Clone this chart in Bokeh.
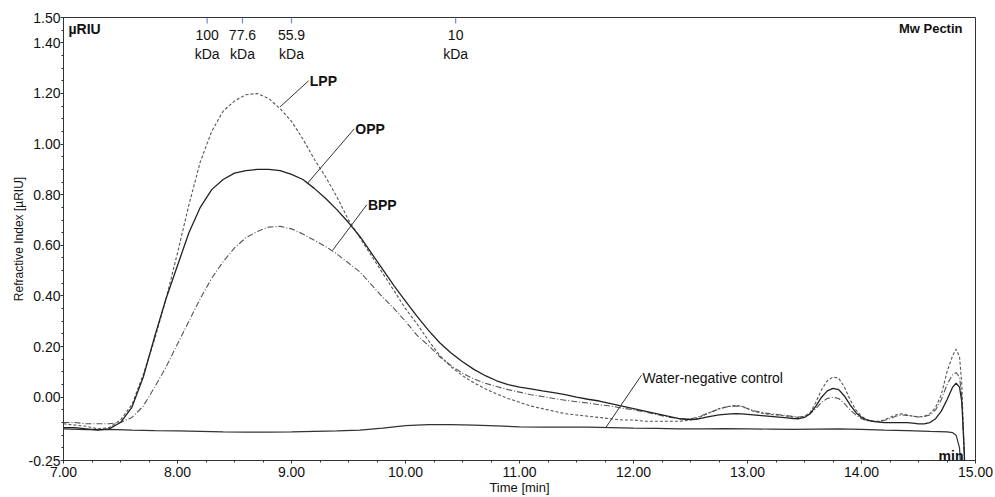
from bokeh.plotting import figure
from bokeh.models import Range1d, FixedTicker, NumeralTickFormatter, Label
from bokeh.core.properties import value
from bokeh.embed import file_html
from bokeh.resources import INLINE

FONT = "Liberation Sans"

# ---- data ----
time_min = [7.0, 7.1, 7.2, 7.3, 7.4, 7.5, 7.6, 7.7, 7.8, 7.9,
            8.0, 8.1, 8.2, 8.3, 8.4, 8.5, 8.6, 8.7, 8.8, 8.9,
            9.0, 9.1, 9.2, 9.3, 9.4, 9.5, 9.6, 9.7, 9.8, 9.9,
            10.0, 10.1, 10.2, 10.3, 10.4, 10.5, 10.6, 10.7, 10.8, 10.9,
            11.0, 11.1, 11.2, 11.3, 11.4, 11.5, 11.6, 11.7, 11.8, 11.9,
            12.0, 12.1, 12.2, 12.3, 12.4, 12.5,
            12.55, 12.6, 12.65, 12.7, 12.75, 12.8, 12.85, 12.9, 12.95,
            13.0, 13.05, 13.1, 13.15, 13.2, 13.25, 13.3, 13.35, 13.4, 13.45,
            13.5, 13.55, 13.6, 13.65, 13.7, 13.75, 13.8, 13.85, 13.9, 13.95,
            14.0, 14.05, 14.1, 14.15, 14.2, 14.25, 14.3, 14.35, 14.4, 14.45,
            14.5, 14.55, 14.6, 14.65, 14.7, 14.75, 14.8,
            14.83, 14.86, 14.88, 14.9, 14.92]

lpp = [-0.105, -0.11, -0.115, -0.125, -0.12, -0.09, -0.03, 0.09, 0.23, 0.39,
       0.57, 0.76, 0.93, 1.05, 1.13, 1.17, 1.195, 1.20, 1.18, 1.14,
       1.09, 1.02, 0.94, 0.87, 0.79, 0.70, 0.63, 0.56, 0.49, 0.42,
       0.35, 0.29, 0.225, 0.165, 0.12, 0.085, 0.057, 0.033, 0.013, -0.005,
       -0.02, -0.035, -0.045, -0.055, -0.065, -0.07, -0.075, -0.08, -0.085, -0.09,
       -0.09, -0.095, -0.095, -0.095, -0.095, -0.09,
       -0.085, -0.075, -0.065, -0.055, -0.045, -0.04, -0.035, -0.033, -0.035,
       -0.045, -0.055, -0.06, -0.065, -0.068, -0.07, -0.072, -0.075, -0.078, -0.08,
       -0.075, -0.06, -0.02, 0.03, 0.065, 0.08, 0.075, 0.04, -0.01, -0.05,
       -0.075, -0.09, -0.095, -0.095, -0.09, -0.08, -0.07, -0.065, -0.07, -0.075,
       -0.078, -0.075, -0.065, -0.04, 0.01, 0.10, 0.165,
       0.19, 0.16, 0.05, -0.2, -0.45]

opp = [-0.12, -0.12, -0.125, -0.13, -0.125, -0.10, -0.04, 0.08, 0.24, 0.39,
       0.52, 0.65, 0.75, 0.82, 0.86, 0.885, 0.895, 0.90, 0.90, 0.895,
       0.88, 0.86, 0.825, 0.785, 0.74, 0.69, 0.635, 0.57, 0.505, 0.44,
       0.38, 0.32, 0.265, 0.215, 0.175, 0.14, 0.11, 0.085, 0.065, 0.05,
       0.04, 0.033, 0.025, 0.018, 0.01, 0.0, -0.008, -0.015, -0.025, -0.035,
       -0.045, -0.055, -0.065, -0.075, -0.085, -0.088,
       -0.087, -0.083, -0.078, -0.074, -0.07, -0.068, -0.066, -0.065, -0.066,
       -0.068, -0.07, -0.072, -0.074, -0.076, -0.078, -0.08, -0.082, -0.084, -0.085,
       -0.08, -0.065, -0.035, 0.0, 0.025, 0.035, 0.03, 0.005, -0.03, -0.06,
       -0.08, -0.09, -0.095, -0.098, -0.1, -0.1, -0.1, -0.1, -0.1, -0.102,
       -0.105, -0.105, -0.1, -0.085, -0.055, -0.01, 0.04,
       0.055, 0.04, -0.02, -0.2, -0.45]

bpp = [-0.10, -0.10, -0.105, -0.105, -0.105, -0.10, -0.08, -0.035, 0.04, 0.12,
       0.21, 0.30, 0.39, 0.47, 0.535, 0.59, 0.63, 0.655, 0.672, 0.675,
       0.665, 0.645, 0.62, 0.595, 0.565, 0.53, 0.495, 0.445, 0.395, 0.35,
       0.30, 0.245, 0.205, 0.16, 0.125, 0.095, 0.072, 0.055, 0.042, 0.03,
       0.02, 0.01, 0.003, -0.005, -0.012, -0.018, -0.023, -0.03, -0.035, -0.043,
       -0.05, -0.058, -0.068, -0.078, -0.085, -0.085,
       -0.08, -0.072, -0.063, -0.055, -0.047, -0.04, -0.036, -0.035, -0.037,
       -0.045, -0.053, -0.058, -0.062, -0.065, -0.067, -0.07, -0.073, -0.076, -0.078,
       -0.076, -0.065, -0.045, -0.02, -0.005, 0.0, -0.005, -0.025, -0.05, -0.07,
       -0.085, -0.093, -0.096, -0.096, -0.092, -0.085, -0.075, -0.07, -0.072, -0.075,
       -0.078, -0.076, -0.07, -0.05, -0.01, 0.05, 0.09,
       0.097, 0.08, 0.0, -0.22, -0.45]

water_time = [7.0, 7.2, 7.4, 7.6, 7.8, 8.0, 8.2, 8.4, 8.6, 8.8,
              9.0, 9.2, 9.4, 9.6, 9.8, 10.0, 10.2, 10.4, 10.6, 10.8,
              11.0, 11.2, 11.4, 11.6, 11.8, 12.0, 12.2, 12.4, 12.6, 12.8,
              13.0, 13.2, 13.4, 13.6, 13.8, 14.0, 14.2, 14.4, 14.6, 14.75,
              14.8, 14.83, 14.86, 14.88, 14.9]
water = [-0.125, -0.128, -0.127, -0.13, -0.132, -0.133, -0.135, -0.137, -0.138, -0.138,
         -0.137, -0.135, -0.133, -0.13, -0.122, -0.112, -0.108, -0.108, -0.11, -0.113,
         -0.117, -0.118, -0.118, -0.118, -0.12, -0.122, -0.123, -0.125, -0.125, -0.124,
         -0.125, -0.126, -0.127, -0.126, -0.125, -0.127, -0.13, -0.132, -0.135, -0.137,
         -0.14, -0.15, -0.2, -0.35, -0.5]

mw_times = [8.26, 8.57, 9.00, 10.44]
mw_labels = ["100\nkDa", "77.6\nkDa", "55.9\nkDa", "10\nkDa"]

callout_names = ["LPP", "OPP", "BPP", "Water-negative control"]
callout_from_t = [8.90, 9.14, 9.36, 11.76]
callout_from_v = [1.147, 0.845, 0.58, -0.118]
callout_to_t = [9.15, 9.55, 9.66, 12.07]
callout_to_v = [1.25, 1.06, 0.76, 0.087]

x_ticks = [7.0, 8.0, 9.0, 10.0, 11.0, 12.0, 13.0, 14.0, 15.0]
x_minor = [7.0 + 0.25 * i for i in range(33)]
y_ticks = [-0.25, 0.0, 0.2, 0.4, 0.6, 0.8, 1.0, 1.2, 1.4, 1.5]
y_minor = [round(-0.25 + 0.05 * i, 2) for i in range(36)]

# ---- figure ----
p = figure(width=995, height=497, output_backend="svg", toolbar_location=None,
           x_range=Range1d(7.0, 15.0), y_range=Range1d(-0.25, 1.5),
           min_border_left=63, min_border_right=20, min_border_top=17,
           min_border_bottom=37)
p.grid.visible = False
p.outline_line_color = "#333333"
p.outline_line_width = 1
p.background_fill_color = "white"
p.border_fill_color = "white"

for ax in (p.xaxis[0], p.yaxis[0]):
    ax.axis_line_color = "#333333"
    ax.major_tick_line_color = "#333333"
    ax.minor_tick_line_color = "#333333"
    ax.major_tick_in = 0
    ax.major_tick_out = 3
    ax.minor_tick_in = 0
    ax.minor_tick_out = 2
    ax.major_label_text_font = FONT
    ax.major_label_text_font_size = "14px"
    ax.major_label_text_color = "#111111"
    ax.formatter = NumeralTickFormatter(format="0.00")
    ax.axis_label_text_font = FONT
    ax.axis_label_text_font_style = "normal"
    ax.axis_label_text_color = "#111111"
    ax.axis_label_standoff = 0

p.xaxis.ticker = FixedTicker(ticks=x_ticks, minor_ticks=x_minor)
p.yaxis.ticker = FixedTicker(ticks=y_ticks, minor_ticks=y_minor)
p.xaxis.major_label_standoff = 3
p.yaxis.major_label_standoff = 0
p.xaxis.axis_label = "Time [min]"
p.xaxis.axis_label_text_font_size = "13px"
p.yaxis.axis_label = "Refractive Index [µRIU]"
p.yaxis.axis_label_text_font_size = "12px"

# ---- curves ----
p.line(water_time, water, line_color="#333333", line_width=1.2)
p.line(time_min, bpp, line_color="#555555", line_width=1.1, line_dash="6 2 1 2")
p.line(time_min, lpp, line_color="#555555", line_width=1.1, line_dash="3 2")
p.line(time_min, opp, line_color="#222222", line_width=1.3)

# ---- molecular weight markers (top) ----
tick_len = 0.024
p.segment(x0=mw_times, y0=[1.5] * len(mw_times), x1=mw_times,
          y1=[1.5 - tick_len] * len(mw_times), line_color="#6b8ed6", line_width=1.2)
p.text(x=mw_times, y=[1.462] * len(mw_times), text=mw_labels,
       text_font=value(FONT), text_font_size="14px", text_color="#111111",
       text_align="center", text_baseline="top", text_line_height=1.2)

# ---- callouts ----
p.segment(x0=callout_from_t, y0=callout_from_v, x1=callout_to_t, y1=callout_to_v,
          line_color="#333333", line_width=1)
p.text(x=[t + 0.01 for t in callout_to_t[:3]], y=callout_to_v[:3], text=callout_names[:3],
       text_font=value(FONT), text_font_size="14px", text_font_style="bold",
       text_color="#111111", text_align="left", text_baseline="middle")
p.text(x=[callout_to_t[3] + 0.01], y=[callout_to_v[3] - 0.01], text=[callout_names[3]],
       text_font=value(FONT), text_font_size="14px", text_color="#111111",
       text_align="left", text_baseline="middle")

# ---- fixed texts ----
p.add_layout(Label(x=5, y=440, x_units="screen", y_units="screen", text="µRIU",
                   text_font=FONT, text_font_size="14px", text_font_style="bold",
                   text_color="#111111", text_baseline="top", text_align="left"))
p.add_layout(Label(x=899, y=440, x_units="screen", y_units="screen", text="Mw Pectin",
                   text_font=FONT, text_font_size="13px", text_font_style="bold",
                   text_color="#111111", text_baseline="top", text_align="right"))
p.add_layout(Label(x=900, y=5, x_units="screen", y_units="screen", text="min",
                   text_font=FONT, text_font_size="14px", text_font_style="bold",
                   text_color="#111111", text_baseline="alphabetic", text_align="right"))

open("out.html", "w").write(file_html(p, INLINE))
